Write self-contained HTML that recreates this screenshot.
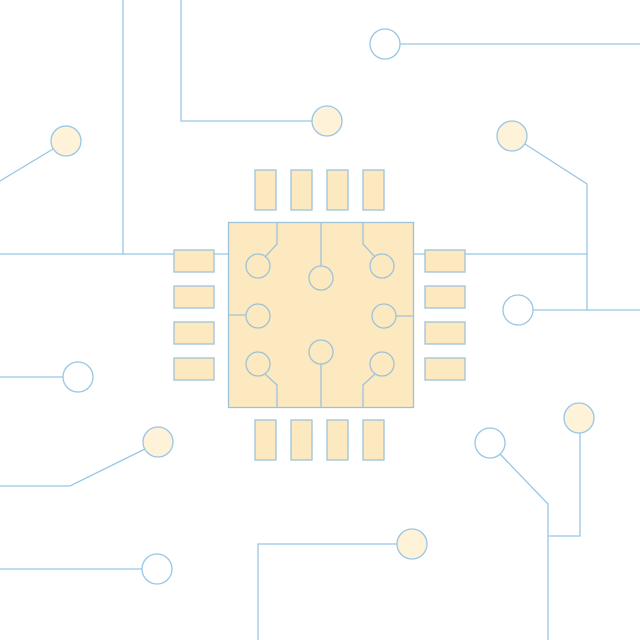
<!DOCTYPE html>
<html><head><meta charset="utf-8"><style>html,body{margin:0;padding:0;background:#fff}svg{display:block}</style></head>
<body>
<svg width="640" height="640" viewBox="0 0 640 640" xmlns="http://www.w3.org/2000/svg">
<g fill="none" stroke="#98c6e6" stroke-width="1.3">
<polyline points="123,0 123,254"/>
<polyline points="0,254 228,254"/>
<polyline points="181,0 181,121 312,121"/>
<polyline points="400,44 640,44"/>
<polyline points="0,181 53,149"/>
<polyline points="525,144 587,184 587,310"/>
<polyline points="413,254 587,254"/>
<polyline points="533,310 640,310"/>
<polyline points="0,377 63,377"/>
<polyline points="145,449 70,486 0,486"/>
<polyline points="0,569 142,569"/>
<polyline points="500,454 548,504 548,640"/>
<polyline points="580,433 580,536 548,536"/>
<polyline points="397,544 258,544 258,640"/>
</g>
<g fill="#fef2d8" stroke="#98c6e6" stroke-width="1.3">
<circle cx="327" cy="121" r="15"/>
<circle cx="66" cy="141" r="15"/>
<circle cx="512" cy="136" r="15"/>
<circle cx="158" cy="442" r="15"/>
<circle cx="579" cy="418" r="15"/>
<circle cx="412" cy="544" r="15"/>
</g>
<g fill="#fff" stroke="#98c6e6" stroke-width="1.3">
<circle cx="385" cy="44" r="15"/>
<circle cx="518" cy="310" r="15"/>
<circle cx="78" cy="377" r="15"/>
<circle cx="157" cy="569" r="15"/>
<circle cx="490" cy="443" r="15"/>
</g>
<g fill="#fde9c0" stroke="#9ec3d8" stroke-width="1.3">
<rect x="228.5" y="222.5" width="185" height="185"/>
<rect x="255" y="170" width="21" height="40"/>
<rect x="291" y="170" width="21" height="40"/>
<rect x="327" y="170" width="21" height="40"/>
<rect x="363" y="170" width="21" height="40"/>
<rect x="255" y="420" width="21" height="40"/>
<rect x="291" y="420" width="21" height="40"/>
<rect x="327" y="420" width="21" height="40"/>
<rect x="363" y="420" width="21" height="40"/>
<rect x="174" y="250" width="40" height="22"/>
<rect x="174" y="286" width="40" height="22"/>
<rect x="174" y="322" width="40" height="22"/>
<rect x="174" y="358" width="40" height="22"/>
<rect x="425" y="250" width="40" height="22"/>
<rect x="425" y="286" width="40" height="22"/>
<rect x="425" y="322" width="40" height="22"/>
<rect x="425" y="358" width="40" height="22"/>
</g>
<g fill="none" stroke="#9ec3d8" stroke-width="1.3">
<polyline points="277,222 277,244 265,257"/>
<polyline points="321,222 321,266"/>
<polyline points="363,222 363,244 375,257"/>
<polyline points="228,315 246,315"/>
<polyline points="396,316 413,316"/>
<polyline points="277,407 277,385 265,374"/>
<polyline points="321,407 321,364"/>
<polyline points="363,407 363,385 375,374"/>
<circle cx="258" cy="266" r="12"/>
<circle cx="321" cy="278" r="12"/>
<circle cx="382" cy="266" r="12"/>
<circle cx="258" cy="316" r="12"/>
<circle cx="384" cy="316" r="12"/>
<circle cx="258" cy="364" r="12"/>
<circle cx="321" cy="352" r="12"/>
<circle cx="382" cy="364" r="12"/>
</g>
</svg>
</body></html>
